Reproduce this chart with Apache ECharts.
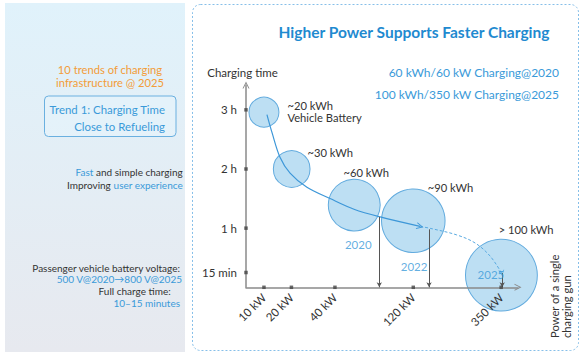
<!DOCTYPE html>
<html>
<head>
<meta charset="utf-8">
<script src="https://cdn.jsdelivr.net/npm/echarts@6/dist/echarts.min.js"></script>
<style>html,body{margin:0;padding:0;background:#fff;}#c{width:588px;height:360px;}</style>
</head>
<body>
<div id="c"></div>
<script>
// ---- data ----
const powerTickLabels = ['10 kW', '20 kW', '40 kW', '120 kW', '350 kW'];
const powerTickPos = [6.6, 16.7, 32.7, 61.5, 93.8];
const timeTickLabels = ['15 min', '1 h', '2 h', '3 h'];
const timeTickValues = [0.25, 1, 2, 3];
const bubbleLabels = ['~20 kWh\nVehicle Battery', '~30 kWh', '~60 kWh', '~90 kWh', '> 100 kWh'];
const bubbleKWh = [20, 30, 60, 90, 115];
const bubbleX = [6.6, 16.8, 39.8, 61.5, 93.9];
const bubbleHours = [2.96, 2.0, 1.39, 1.125, 0.205];
const trendX = [7.7, 9.6, 12.5, 16.2, 22.4, 30.9, 39.7, 49.3, 64.0];
const trendHours = [2.92, 2.61, 2.20, 1.93, 1.69, 1.50, 1.32, 1.19, 1.03];
const forecastX = [64.0, 68.4, 77.5, 84.2, 89.7, 94.0];
const forecastHours = [1.03, 0.99, 0.885, 0.75, 0.53, 0.24];
const yearLabels = ['2020', '2022', '2025'];
const yearX = [49.0, 67.3, 94.2];
const yearHours = [1.19, 0.98, 0.24];

// ---- styles ----
const FONT = 'Lato, "Noto Sans", sans-serif';
const BLUE = '#3a9ad9';
const DARK = '#333333';
const CHEVRON = 'path://M0,10 L5,0 L10,10 L8.6,10 L5,2.8 L1.4,10 Z';
const bubbleLabelOffsets = [[24, -0.6], [16.3, -15.7], [-10.3, -31.7], [15, -33.1], [-2.2, -45.5]];
const yearLabelOffsets = [[-34.3, 27.3], [-28.3, 37.7], [-24.6, 1.7]];
const bubbleDiam = k => 6.7 * Math.sqrt(k);

const chart = echarts.init(document.getElementById('c'), null, {renderer: 'svg'});

function txt(text, x, y, opts) {
  return {
    type: 'text', x: x, y: y, z: 10,
    style: Object.assign({
      text: text, fill: DARK, font: '10px ' + FONT,
      textAlign: 'right', textVerticalAlign: 'middle'
    }, opts || {})
  };
}

const option = {
  animation: false,
  backgroundColor: '#ffffff',
  grid: {left: 246, right: 70, top: 85, bottom: 72.7},
  xAxis: {
    type: 'value', min: 0, max: 100, z: 3,
    axisLine: {show: true, lineStyle: {color: '#8a8a8a', width: 1.5}, symbol: ['none', CHEVRON], symbolSize: [7, 8]},
    axisTick: {show: false},
    splitLine: {show: false},
    axisLabel: {
      customValues: powerTickPos,
      formatter: v => powerTickLabels[powerTickPos.indexOf(v)] || '',
      rotate: 45, margin: 8, color: DARK, fontSize: 11.5, fontFamily: FONT
    }
  },
  yAxis: {
    type: 'value', min: 0, max: 3.42, z: 3,
    name: 'Charging time', nameLocation: 'end', nameGap: 7,
    nameTextStyle: {color: DARK, fontSize: 11.5, fontFamily: FONT, align: 'center', padding: [0, 7, 0, 0]},
    axisLine: {show: true, lineStyle: {color: '#8a8a8a', width: 1.5}, symbol: ['none', CHEVRON], symbolSize: [7, 8]},
    axisTick: {show: false},
    splitLine: {show: false},
    axisLabel: {
      customValues: timeTickValues,
      formatter: v => timeTickLabels[timeTickValues.indexOf(v)] || '',
      margin: 9, color: DARK, fontSize: 11.5, fontFamily: FONT
    }
  },
  series: [
    {
      name: 'battery', type: 'scatter', z: 1,
      symbolSize: v => bubbleDiam(v[2]),
      itemStyle: {color: '#bddff3', borderColor: '#62abde', borderWidth: 1, opacity: 1},
      data: bubbleX.map((x, i) => {
        const r = bubbleDiam(bubbleKWh[i]) / 2;
        const o = bubbleLabelOffsets[i];
        return {
          value: [x, bubbleHours[i], bubbleKWh[i]],
          label: {
            show: true, formatter: bubbleLabels[i], position: [r + o[0], r + o[1]],
            align: 'left', verticalAlign: 'middle', color: DARK, fontSize: 11.2,
            lineHeight: 12, fontFamily: FONT
          }
        };
      }),
      emphasis: {disabled: true}
    },
    {
      name: 'trend', type: 'line', z: 4, smooth: 0.35, symbol: 'none',
      lineStyle: {color: '#3d97d8', width: 1.2},
      data: trendX.map((x, i) => [x, trendHours[i]]),
      markLine: {
        silent: true, symbol: ['none', CHEVRON], symbolSize: [7, 7],
        lineStyle: {color: '#3d97d8', width: 0, type: 'solid'}, label: {show: false},
        data: [[{coord: [trendX[trendX.length - 2] + 10, trendHours[trendHours.length - 2] - 0.11]}, {coord: [trendX[trendX.length - 1], trendHours[trendHours.length - 1]]}]]
      }
    },
    {
      name: 'forecast', type: 'line', z: 4, smooth: 0.35, symbol: 'none',
      lineStyle: {color: '#5aaae0', width: 1, type: [3, 2]},
      data: forecastX.map((x, i) => [x, forecastHours[i]]),
      markLine: {
        silent: true, symbol: ['none', CHEVRON], symbolSize: [6, 6],
        lineStyle: {color: '#5aaae0', width: 0, type: 'solid'}, label: {show: false},
        data: [[{coord: [forecastX[forecastX.length - 1] - 0.3, forecastHours[forecastHours.length - 1] + 0.1]}, {coord: [forecastX[forecastX.length - 1], forecastHours[forecastHours.length - 1]]}]]
      }
    },
    {
      name: 'years', type: 'scatter', z: 5, symbolSize: 0.1,
      itemStyle: {color: 'transparent'},
      data: yearX.map((x, i) => ({
        value: [x, yearHours[i]],
        label: {
          show: true, formatter: yearLabels[i], position: yearLabelOffsets[i],
          align: 'left', verticalAlign: 'middle', color: BLUE, fontSize: 11.5, fontFamily: FONT
        }
      })),
      markLine: {
        silent: true, symbol: ['none', 'arrow'], symbolSize: [4, 5],
        lineStyle: {color: '#555555', width: 1, type: 'solid'}, label: {show: false},
        data: yearX.map((x, i) => [{coord: [x, yearHours[i]]}, {coord: [x, 0]}])
      }
    },
    {
      name: 'ticks', type: 'scatter', z: 6, symbol: 'rect', symbolSize: 3.5,
      itemStyle: {color: '#444444'}, clip: false, silent: true,
      data: powerTickPos.map(x => [x, 0]).concat(timeTickValues.map(h => [0, h]))
    }
  ],
  graphic: [
    {
      type: 'rect', z: -10, shape: {x: 5, y: 3, width: 180, height: 349},
      style: {fill: new echarts.graphic.LinearGradient(0, 0, 0, 1, [{offset: 0, color: '#e0f2fb'}, {offset: 1, color: '#e7e9ef'}])}
    },
    {
      type: 'rect', z: -10, shape: {x: 192.5, y: 4.5, width: 386, height: 346, r: 8},
      style: {fill: 'none', stroke: '#86bfe9', lineWidth: 1, lineDash: [2, 2]}
    },
    txt('Higher Power Supports Faster Charging', 414, 32, {fill: '#1f8ad0', font: 'bold 15.5px ' + FONT, textAlign: 'center'}),
    txt('60 kWh/60 kW Charging@2020', 559, 72.5, {fill: BLUE, font: '12px ' + FONT}),
    txt('100 kWh/350 kW Charging@2025', 559, 94, {fill: BLUE, font: '12px ' + FONT}),
    {
      type: 'text', x: 560.5, y: 338, rotation: Math.PI / 2, z: 10,
      style: {text: 'Power of a single\ncharging gun', fill: DARK, font: '11.2px ' + FONT, lineHeight: 12.5, textAlign: 'left', textVerticalAlign: 'middle'}
    },
    txt('10 trends of charging', 110, 69.7, {fill: '#f39c38', font: '11.2px ' + FONT, textAlign: 'center'}),
    txt('infrastructure @ 2025', 110, 82.3, {fill: '#f39c38', font: '11.2px ' + FONT, textAlign: 'center'}),
    {
      type: 'rect', z: 5, shape: {x: 44.5, y: 96, width: 131.5, height: 40.5, r: 4},
      style: {fill: 'rgba(230,244,252,0.6)', stroke: '#6ab0e0', lineWidth: 1}
    },
    txt('Trend 1: Charging Time', 165, 109.5, {fill: BLUE, font: '11.4px ' + FONT}),
    txt('Close to Refueling', 165, 126, {fill: BLUE, font: '11.4px ' + FONT}),
    txt('{b|Fast} and simple charging', 182.7, 172.3, {rich: {b: {fill: BLUE, font: '10px ' + FONT}}}),
    txt('Improving {b|user experience}', 182.7, 185, {rich: {b: {fill: BLUE, font: '10px ' + FONT}}}),
    txt('Passenger vehicle battery voltage:', 180, 267.7),
    txt('500 V@2020\u2192800 V@2025', 182, 278.5, {fill: BLUE}),
    txt('Full charge time:', 170.7, 291),
    txt('10\u201315 minutes', 180, 303.3, {fill: BLUE})
  ]
};
chart.setOption(option);
</script>
</body>
</html>
